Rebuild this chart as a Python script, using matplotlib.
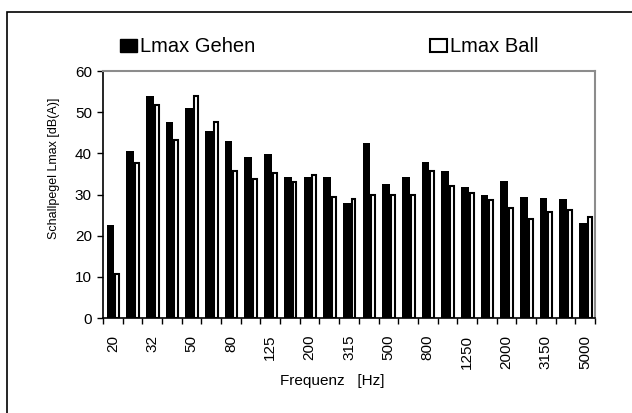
import matplotlib
matplotlib.use("Agg")
import matplotlib.pyplot as plt
import numpy as np
from matplotlib.patches import Rectangle, Patch

plt.rcParams["font.family"] = ["Liberation Sans", "DejaVu Sans"]

frequencies = ["20", "25", "32", "40", "50", "63", "80", "100", "125", "160",
               "200", "250", "315", "400", "500", "630", "800", "1000", "1250",
               "1600", "2000", "2500", "3150", "4000", "5000"]
lmaxGehen = [22.5, 40.5, 54.0, 47.5, 51.0, 45.5, 43.0, 39.2, 39.8, 34.3,
             34.3, 34.3, 28.0, 42.6, 32.5, 34.3, 37.8, 35.7, 31.9, 30.0,
             33.2, 29.4, 29.2, 29.0, 23.0]
lmaxBall = [10.6, 37.6, 51.7, 43.3, 54.0, 47.5, 35.8, 33.8, 35.3, 33.0,
            34.7, 29.3, 28.8, 29.9, 30.0, 30.0, 35.6, 32.1, 30.3, 28.7,
            26.6, 24.0, 25.8, 26.3, 24.6]
legendLabels = ["Lmax Gehen", "Lmax Ball"]

fig = plt.figure(figsize=(6.32, 4.13), dpi=100)
ax = fig.add_axes([103 / 632, 1 - 318 / 413, 492 / 632, 247 / 413])

# outer chart frame (right and bottom are cut off in the original)
fig.patches.append(Rectangle((7 / 632, -0.05), 1.1, (413 - 12) / 413 + 0.05,
                             transform=fig.transFigure, fill=False,
                             edgecolor="black", linewidth=1.2))

x = np.arange(len(frequencies))
ax.bar(x - 0.115, lmaxGehen, width=0.39, color="black", zorder=2)
ax.bar(x + 0.23, lmaxBall, width=0.2, color="white", edgecolor="black",
       linewidth=1.5, zorder=3)

ax.set_xlim(-0.5, len(frequencies) - 0.5)
ax.set_ylim(0, 60)
ax.set_yticks(range(0, 61, 10))
ax.set_xticks(x[::2])
ax.set_xticklabels(frequencies[::2], rotation=90, fontsize=11)
ax.set_xticks(np.arange(len(frequencies) + 1) - 0.5, minor=True)
ax.tick_params(axis="x", which="major", length=0, pad=12)
ax.tick_params(axis="x", which="minor", length=4, width=1, direction="out")
ax.tick_params(axis="y", length=4, width=1, direction="out", labelsize=11, pad=4)
for lbl in ax.get_xticklabels():
    lbl.set_va("top")

for side in ["left", "bottom"]:
    ax.spines[side].set_color("black")
    ax.spines[side].set_linewidth(1.2)
for side in ["top", "right"]:
    ax.spines[side].set_color("#8c8c8c")
    ax.spines[side].set_linewidth(1.5)

fig.text(54 / 632, 1 - 168 / 413, "Schallpegel Lmax [dB(A)]", rotation=90,
         ha="center", va="center", fontsize=9)
fig.text(332 / 632, 1 - 381 / 413, "Frequenz   [Hz]", ha="center",
         va="center", fontsize=11)

handles = [Patch(facecolor="black", edgecolor="black"),
           Patch(facecolor="white", edgecolor="black", linewidth=1.5)]
fig.legend(handles, legendLabels, loc="center left", ncol=2,
           bbox_to_anchor=(112 / 632, 1 - 47 / 413), frameon=False, fontsize=14.5,
           handlelength=0.82, handleheight=0.68, handletextpad=0.15,
           columnspacing=8.7, borderaxespad=0)

fig.savefig("out.png", dpi=100)
